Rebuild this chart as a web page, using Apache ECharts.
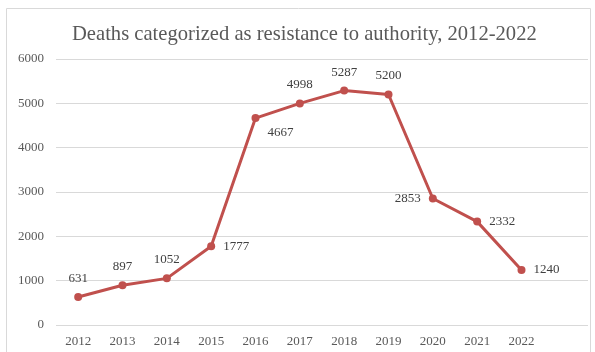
<!DOCTYPE html>
<html>
<head>
<meta charset="utf-8">
<script src="https://cdn.jsdelivr.net/npm/echarts@6/dist/echarts.min.js"></script>
<style>
  html, body { margin: 0; padding: 0; background: #fff; }
  #chart { width: 595px; height: 352px; }
</style>
</head>
<body>
<div id="chart"></div>
<script>
// 数据
const years = ['2012', '2013', '2014', '2015', '2016', '2017', '2018', '2019', '2020', '2021', '2022'];
const deaths = [631, 897, 1052, 1777, 4667, 4998, 5287, 5200, 2853, 2332, 1240];
// 每个标签的位置
const labelPos = ['top', 'top', 'top', 'right', 'right', 'top', 'top', 'top', 'left', 'right', 'right'];
const yTicks = [0, 1000, 2000, 3000, 4000, 5000, 6000];

(function () {
  let myChart = echarts.init(document.getElementById('chart'))
  const font = '"Liberation Serif", "DejaVu Serif", serif'

  let option = {
    animation: false,
    color: ['#c0504d'],
    graphic: [
      {
        type: 'rect',
        shape: { x: 6.5, y: 8.5, width: 584, height: 360 },
        style: { fill: 'none', stroke: '#d9d9d9', lineWidth: 1 }
      }
    ],
    title: {
      text: 'Deaths categorized as resistance to authority, 2012-2022',
      left: 67,
      top: 19,
      textStyle: {
        fontFamily: font,
        fontSize: 20.6,
        fontWeight: 'normal',
        color: '#595959'
      }
    },
    grid: {
      left: 56,
      right: 7,
      top: 59,
      bottom: 27
    },
    xAxis: {
      type: 'category',
      // 最后一个空类别，让网格线延伸到右边
      data: years.concat(['']),
      boundaryGap: true,
      axisLine: { show: false },
      axisTick: { show: false },
      axisLabel: {
        color: '#595959',
        fontFamily: font,
        fontSize: 13,
        margin: 10
      }
    },
    yAxis: {
      type: 'value',
      min: yTicks[0],
      max: yTicks[yTicks.length - 1],
      interval: 1000,
      axisLine: { show: false },
      axisTick: { show: false },
      axisLabel: {
        color: '#595959',
        fontFamily: font,
        fontSize: 13,
        margin: 12,
        formatter: function (v) { return String(v) }
      },
      splitLine: {
        lineStyle: { color: '#d9d9d9', width: 1 }
      }
    },
    series: [
      {
        type: 'line',
        symbol: 'circle',
        symbolSize: 8,
        lineStyle: { width: 3 },
        data: deaths.map(function (v, i) {
          let label = { position: labelPos[i] }
          // 4667 在右下方
          if (i === 4) label.offset = [0, 14]
          return { value: v, label: label }
        }),
        label: {
          show: true,
          color: '#404040',
          fontFamily: font,
          fontSize: 13,
          distance: 8
        }
      }
    ]
  }

  myChart.setOption(option)
})();
</script>
</body>
</html>
